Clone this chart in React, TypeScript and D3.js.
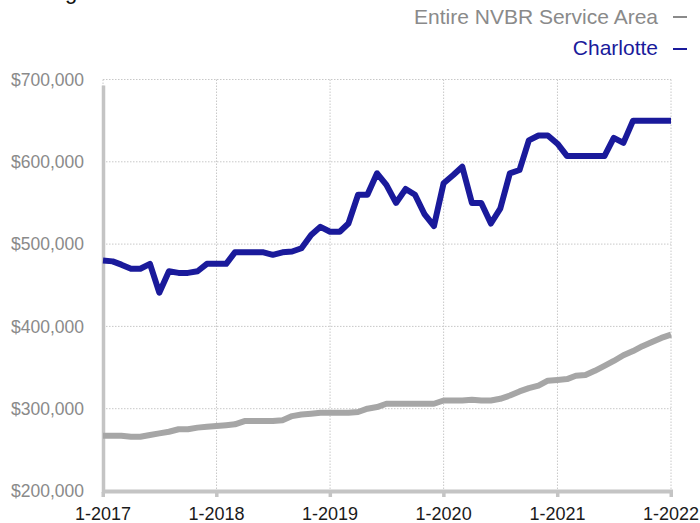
import * as d3 from 'd3';

// monthly points, Jan 2017 .. Jan 2022 (61 months)
const START_YEAR = 2017;
const yearTicks = [2017, 2018, 2019, 2020, 2021, 2022];
const priceTicks = [200000, 300000, 400000, 500000, 600000, 700000];

// Entire NVBR Service Area, in $1000
const nvbrValues = [
  267, 267, 267, 266, 266, 268, 270, 272, 275, 275, 277, 278,
  279, 280, 281, 285, 285, 285, 285, 286, 291, 293, 294, 295,
  295, 295, 295, 296, 300, 302, 306, 306, 306, 306, 306, 306,
  310, 310, 310, 311, 310, 310, 312, 316, 321, 325, 328, 334,
  335, 336, 340, 341, 346, 352, 358, 365, 370, 376, 381, 386,
  390,
];

// Charlotte, in $1000
const charlotteValues = [
  480, 479, 475, 470, 470, 476, 441, 467, 465, 465, 467, 476,
  476, 476, 490, 490, 490, 490, 487, 490, 491, 495, 511, 521,
  515, 515, 525, 560, 560, 586, 572, 550, 567, 560, 536, 522,
  574, 584, 594, 550, 550, 525, 543, 586, 590, 626, 632, 632,
  622, 607, 607, 607, 607, 607, 629, 623, 650, 650, 650, 650,
  650,
];

const seriesNames = ['Entire NVBR Service Area', 'Charlotte'];
const seriesColors = ['#a6a6a6', '#1a1a9b'];

const W = 700;
const H = 523;
const FONT = '"Liberation Sans", Arial, Helvetica, sans-serif';

export default function App() {
  const x = d3
    .scaleTime()
    .domain([new Date(START_YEAR, 0, 1), new Date(2022, 0, 1)])
    .range([103, 671]);
  const y = d3.scaleLinear().domain([200000, 700000]).range([491, 79.5]);

  const toPoints = (vals: number[]) =>
    vals.map((v, i) => ({ date: new Date(START_YEAR, i, 1), value: v * 1000 }));

  const line = d3
    .line<{ date: Date; value: number }>()
    .x((d) => x(d.date))
    .y((d) => y(d.value));

  const series = [nvbrValues, charlotteValues];
  const fmt = d3.format(',');

  return (
    <div style={{ position: 'absolute', left: 0, top: 0 }}>
      <svg width={W} height={H} style={{ display: 'block', fontFamily: FONT }}>
        {/* title, mostly above the frame */}
        <text x={8} y={-1} fontSize={22} fill="#111">
          Average Sales Price
        </text>

        {/* grid */}
        {priceTicks.map((t) => (
          <line
            key={'h' + t}
            x1={103}
            x2={671}
            y1={y(t)}
            y2={y(t)}
            stroke="#c8c8c8"
            strokeDasharray="1.5,1.5"
          />
        ))}
        {yearTicks.map((yr) => (
          <line
            key={'v' + yr}
            x1={x(new Date(yr, 0, 1))}
            x2={x(new Date(yr, 0, 1))}
            y1={y(700000)}
            y2={y(200000)}
            stroke="#c8c8c8"
            strokeDasharray="1.5,1.5"
          />
        ))}

        {/* axes */}
        <line x1={103.5} x2={103.5} y1={y(700000) + 6} y2={493} stroke="#c4c4c4" strokeWidth={3.5} />
        <line x1={102} x2={673} y1={491.5} y2={491.5} stroke="#c4c4c4" strokeWidth={4} />
        {yearTicks.map((yr) => (
          <rect
            key={'t' + yr}
            x={x(new Date(yr, 0, 1)) - 1.5}
            y={492}
            width={3.5}
            height={5}
            fill="#c4c4c4"
          />
        ))}

        {/* y labels */}
        {priceTicks.map((t) => (
          <text
            key={'yl' + t}
            x={84}
            y={y(t)}
            dy="0.35em"
            textAnchor="end"
            fontSize={17.5}
            fill="#8a8a8a"
          >
            ${fmt(t)}
          </text>
        ))}

        {/* x labels */}
        {yearTicks.map((yr) => (
          <text
            key={'xl' + yr}
            x={x(new Date(yr, 0, 1))}
            y={520}
            textAnchor="middle"
            fontSize={18}
            fill="#1a1a1a"
          >
            1-{yr}
          </text>
        ))}

        {/* lines */}
        {series.map((vals, i) => (
          <path
            key={'s' + i}
            d={line(toPoints(vals)) ?? ''}
            fill="none"
            stroke={seriesColors[i]}
            strokeWidth={6}
            strokeLinejoin="round"
          />
        ))}

        {/* legend */}
        {seriesNames.map((name, i) => (
          <g key={'lg' + i}>
            <text x={658} y={24 + i * 31} textAnchor="end" fontSize={21} fill={i === 0 ? '#8a8a8a' : seriesColors[1]}>
              {name}
            </text>
            <line
              x1={673}
              x2={687}
              y1={17 + i * 32}
              y2={17 + i * 32}
              stroke={i === 0 ? '#8a8a8a' : seriesColors[1]}
              strokeWidth={2}
            />
          </g>
        ))}
      </svg>
    </div>
  );
}
